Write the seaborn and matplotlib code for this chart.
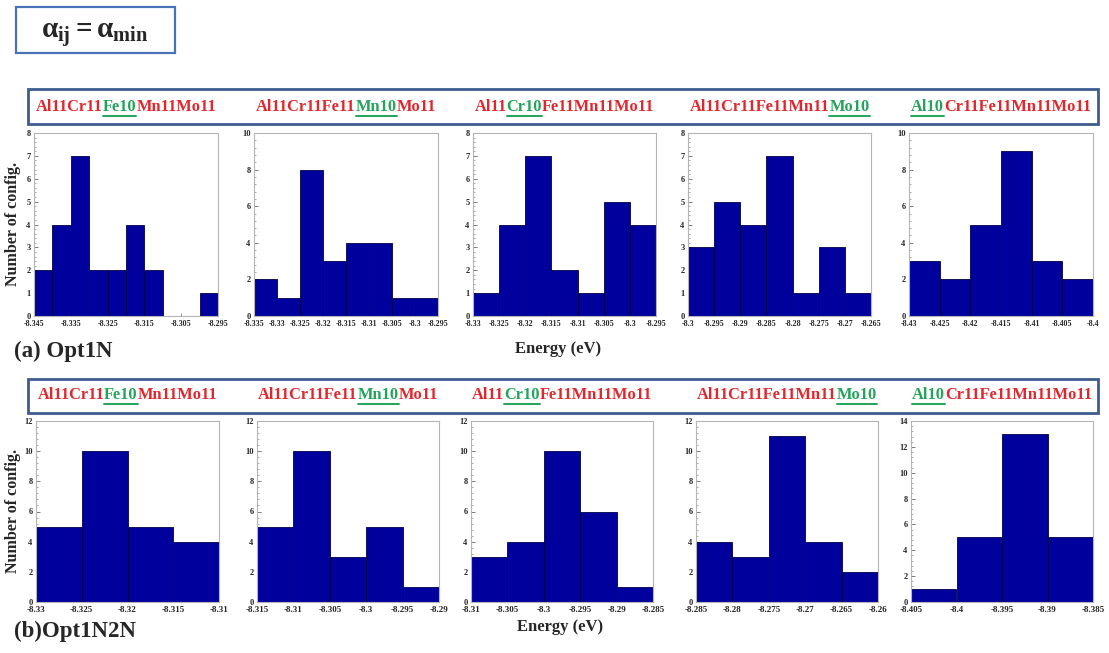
import numpy as np
import pandas as pd
import matplotlib
matplotlib.use("Agg")
import matplotlib.pyplot as plt
import seaborn as sns
from matplotlib.patches import Rectangle
from matplotlib.lines import Line2D
from matplotlib.ticker import MultipleLocator, AutoMinorLocator, FixedLocator

# ---------------- data ----------------
BIN_WIDTH = 0.005

labels_parts = [
    ("Al11Cr11", "Fe10", "Mn11Mo11"),
    ("Al11Cr11Fe11", "Mn10", "Mo11"),
    ("Al11", "Cr10", "Fe11Mn11Mo11"),
    ("Al11Cr11Fe11Mn11", "Mo10", ""),
    ("", "Al10", "Cr11Fe11Mn11Mo11"),
]

opt1n_counts = [
    [2, 4, 7, 2, 2, 4, 2, 0, 0, 1],
    [2, 1, 8, 3, 4, 4, 1, 1],
    [1, 4, 7, 2, 1, 5, 4],
    [3, 5, 4, 7, 1, 3, 1],
    [3, 2, 5, 9, 3, 2],
]
opt1n_start = [-8.345, -8.335, -8.33, -8.3, -8.43]
opt1n_ymax = [8, 10, 8, 8, 10]
opt1n_ystep = [1, 2, 1, 1, 2]
opt1n_xstep = [0.01, 0.005, 0.005, 0.005, 0.005]

opt1n2n_counts = [
    [5, 10, 5, 4],
    [5, 10, 3, 5, 1],
    [3, 4, 10, 6, 1],
    [4, 3, 11, 4, 2],
    [1, 5, 13, 5],
]
opt1n2n_start = [-8.33, -8.315, -8.31, -8.285, -8.405]
opt1n2n_ymax = [12, 12, 12, 12, 14]
opt1n2n_ystep = [2, 2, 2, 2, 2]
opt1n2n_xstep = [0.005, 0.005, 0.005, 0.005, 0.005]

# ---------------- style ----------------
sns.set_style("ticks")
plt.rcParams["font.family"] = ["Liberation Serif", "DejaVu Serif"]
plt.rcParams["font.weight"] = "bold"
plt.rcParams["mathtext.fontset"] = "custom"
plt.rcParams["mathtext.rm"] = "Liberation Serif:bold"
plt.rcParams["mathtext.it"] = "Liberation Serif:bold"
plt.rcParams["mathtext.bf"] = "Liberation Serif:bold"

BAR = "#00009C"
BAR_EDGE = "#00004A"
RED = "#E3262C"
GREEN = "#23A45A"
BOX_EDGE = "#3D5C8E"

W, H = 1109, 653
fig = plt.figure(figsize=(W / 100, H / 100), dpi=100)
fig.patch.set_facecolor("white")


def fx(x):
    return x / W


def fy(y):
    return 1 - y / H


def rect(l, t, r, b):
    return [fx(l), fy(b), (r - l) / W, (b - t) / H]


top_px = [(34, 133, 218, 316), (254, 133, 438, 316), (473, 133, 656, 316),
          (688, 133, 871, 316), (909, 133, 1093, 316)]
bot_px = [(36, 421, 219, 602), (257, 421, 439, 602), (471, 421, 653, 602),
          (696, 421, 878, 602), (911, 421, 1093, 602)]


def fmt(v):
    return f"{round(v, 3):g}"


def draw_hist(box, counts, start, ymax, ystep, xstep, xfs):
    ax = fig.add_axes(rect(*box))
    n = len(counts)
    edges = start + BIN_WIDTH * np.arange(n + 1)
    centers = (edges[:-1] + edges[1:]) / 2
    # one energy sample per configuration, placed at its bin centre
    samples = pd.DataFrame({"energy": np.repeat(centers, counts)})
    sns.histplot(data=samples, x="energy", bins=list(edges), ax=ax,
                 stat="count", color=BAR, edgecolor=BAR_EDGE, linewidth=0.6,
                 alpha=1.0)
    ax.set_xlim(edges[0], edges[-1])
    ax.set_ylim(0, ymax)
    ax.set_xlabel("")
    ax.set_ylabel("")
    nt = int(round((edges[-1] - edges[0]) / xstep)) + 1
    ticks = [edges[0] + i * xstep for i in range(nt)]
    ax.xaxis.set_major_locator(FixedLocator(ticks))
    ax.set_xticklabels([fmt(t) for t in ticks])
    ax.yaxis.set_major_locator(MultipleLocator(ystep))
    ax.yaxis.set_minor_locator(AutoMinorLocator(5))
    for s in ax.spines.values():
        s.set_color("#B5B5B5")
        s.set_linewidth(0.8)
    ax.tick_params(axis="y", which="major", direction="in", length=3,
                   width=0.6, color="#666666", labelsize=6, pad=2.5)
    ax.tick_params(axis="y", which="minor", direction="in", length=1.5,
                   width=0.5, color="#888888")
    ax.tick_params(axis="x", which="major", direction="in", length=2,
                   width=0.5, color="#666666", labelsize=xfs, pad=3)
    for lab in ax.get_xticklabels() + ax.get_yticklabels():
        lab.set_fontweight("bold")
    return ax


for i in range(5):
    draw_hist(top_px[i], opt1n_counts[i], opt1n_start[i], opt1n_ymax[i],
              opt1n_ystep[i], opt1n_xstep[i], 5.8)
    draw_hist(bot_px[i], opt1n2n_counts[i], opt1n2n_start[i], opt1n2n_ymax[i],
              opt1n2n_ystep[i], opt1n2n_xstep[i], 6.5)

# ---------------- boxes ----------------
def add_box(l, t, r, b, color, lw):
    fig.add_artist(Rectangle((fx(l), fy(b)), (r - l) / W, (b - t) / H,
                             transform=fig.transFigure, facecolor="white",
                             edgecolor=color, linewidth=lw, zorder=5))


add_box(16, 7, 175, 53, "#4A72B8", 1.6)
fig.text(fx(95), fy(35), r"$\alpha_{ij} = \alpha_{min}$", fontsize=21,
         ha="center", va="center", zorder=6)

add_box(28, 89, 1098, 124, BOX_EDGE, 2.0)
add_box(28, 379, 1098, 413, BOX_EDGE, 2.0)

renderer = fig.canvas.get_renderer()


def composition_label(cx, cy, parts, fs=11.8):
    pieces = []
    for k, (txt, col) in enumerate(zip(parts, [RED, GREEN, RED])):
        if not txt:
            continue
        t = fig.text(0, fy(cy), txt, fontsize=fs, color=col, ha="left",
                     va="center", fontweight="bold", zorder=7)
        pieces.append((t, k))
    widths = [t.get_window_extent(renderer).width for t, _ in pieces]
    x = cx - sum(widths) / 2
    for (t, k), w in zip(pieces, widths):
        t.set_x(fx(x))
        if k == 1:
            bb = t.get_window_extent(renderer)
            yline = H - bb.y0 + 1.0
            fig.add_artist(Line2D([fx(x), fx(x + w)], [fy(yline), fy(yline)],
                                  transform=fig.transFigure, color=GREEN,
                                  linewidth=1.4, zorder=7))
        x += w


for i in range(5):
    cx = (top_px[i][0] + top_px[i][2]) / 2
    composition_label(cx, 107, labels_parts[i])
    cx2 = (bot_px[i][0] + bot_px[i][2]) / 2
    composition_label(cx2, 395, labels_parts[i])

# ---------------- axis titles ----------------
fig.text(fx(13), fy(224), "Number of config.", rotation=90, fontsize=11.5,
         ha="center", va="center", fontweight="bold")
fig.text(fx(13), fy(511), "Number of config.", rotation=90, fontsize=11.5,
         ha="center", va="center", fontweight="bold")
fig.text(fx(558), fy(349), "Energy (eV)", fontsize=12, ha="center",
         va="center", fontweight="bold")
fig.text(fx(560), fy(627), "Energy (eV)", fontsize=12, ha="center",
         va="center", fontweight="bold")
fig.text(fx(14), fy(351), "(a) Opt1N", fontsize=16.5, ha="left", va="center",
         fontweight="bold")
fig.text(fx(14), fy(631), "(b)Opt1N2N", fontsize=16.5, ha="left", va="center",
         fontweight="bold")

fig.savefig("out.png", dpi=100, facecolor="white")
